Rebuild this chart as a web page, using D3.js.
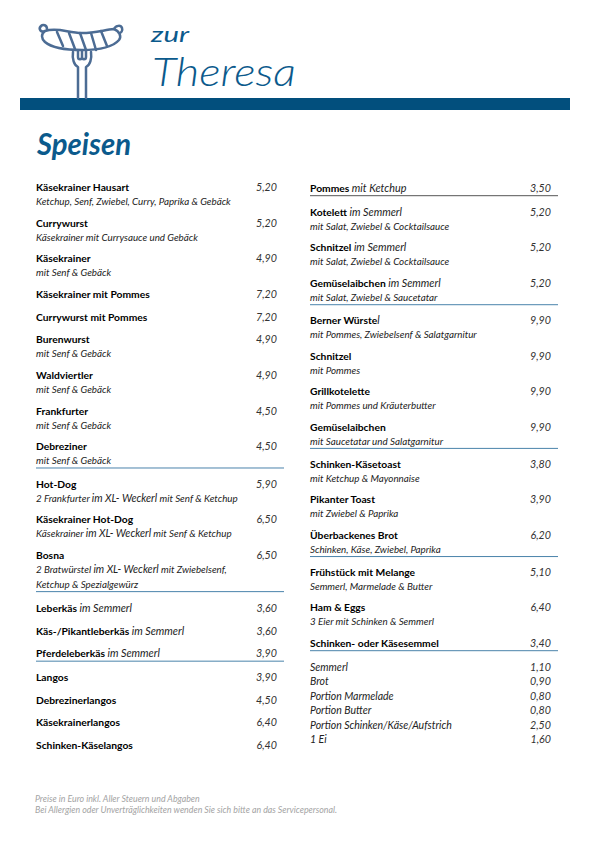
<!DOCTYPE html>
<html lang="de">
<head>
<meta charset="utf-8">
<title>Speisen</title>
<script src="https://cdnjs.cloudflare.com/ajax/libs/d3/7.8.5/d3.min.js"></script>
<style>
  html, body { margin: 0; padding: 0; background: #fff; }
  svg { display: block; }
  text { font-family: Lato, "Open Sans", sans-serif; }
</style>
</head>
<body>
<svg id="menu"></svg>
<script>
const leftNames = ["Käsekrainer Hausart", "Currywurst", "Käsekrainer", "Käsekrainer mit Pommes", "Currywurst mit Pommes", "Burenwurst", "Waldviertler", "Frankfurter", "Debreziner", "Hot-Dog", "Käsekrainer Hot-Dog", "Bosna", "Leberkäs", "Käs-/Pikantleberkäs", "Pferdeleberkäs", "Langos", "Debrezinerlangos", "Käsekrainerlangos", "Schinken-Käselangos"];
const leftTails = ["", "", "", "", "", "", "", "", "", "", "", "", "im Semmerl", "im Semmerl", "im Semmerl", "", "", "", ""];
const leftDescs = [
  ["Ketchup, Senf, Zwiebel, Curry, Paprika & Gebäck"],
  ["Käsekrainer mit Currysauce und Gebäck"],
  ["mit Senf & Gebäck"],
  [],
  [],
  ["mit Senf & Gebäck"],
  ["mit Senf & Gebäck"],
  ["mit Senf & Gebäck"],
  ["mit Senf & Gebäck"],
  ["2 Frankfurter im XL- Weckerl mit Senf & Ketchup"],
  ["Käsekrainer im XL- Weckerl mit Senf & Ketchup"],
  ["2 Bratwürstel im XL- Weckerl mit Zwiebelsenf,", "Ketchup & Spezialgewürz"],
  [], [], [], [], [], [], []
];
const leftPrices = ["5,20", "5,20", "4,90", "7,20", "7,20", "4,90", "4,90", "4,50", "4,50", "5,90", "6,50", "6,50", "3,60", "3,60", "3,90", "3,90", "4,50", "6,40", "6,40"];
const leftRules = ["Debreziner", "Bosna", "Pferdeleberkäs"];

const rightNames = ["Pommes", "Kotelett", "Schnitzel", "Gemüselaibchen", "Berner Würste", "Schnitzel", "Grillkotelette", "Gemüselaibchen", "Schinken-Käsetoast", "Pikanter Toast", "Überbackenes Brot", "Frühstück mit Melange", "Ham & Eggs", "Schinken- oder Käsesemmel"];
const rightTails = ["mit Ketchup", "im Semmerl", "im Semmerl", "im Semmerl", "l", "", "", "", "", "", "", "", "", ""];
const rightDescs = [
  [],
  ["mit Salat, Zwiebel & Cocktailsauce"],
  ["mit Salat, Zwiebel & Cocktailsauce"],
  ["mit Salat, Zwiebel & Saucetatar"],
  ["mit Pommes, Zwiebelsenf & Salatgarnitur"],
  ["mit Pommes"],
  ["mit Pommes und Kräuterbutter"],
  ["mit Saucetatar und Salatgarnitur"],
  ["mit Ketchup & Mayonnaise"],
  ["mit Zwiebel & Paprika"],
  ["Schinken, Käse, Zwiebel, Paprika"],
  ["Semmerl, Marmelade & Butter"],
  ["3 Eier mit Schinken & Semmerl"],
  []
];
const rightPrices = ["3,50", "5,20", "5,20", "5,20", "9,90", "9,90", "9,90", "9,90", "3,80", "3,90", "6,20", "5,10", "6,40", "3,40"];
const rightRules = ["Pommes", "Gemüselaibchen", "Überbackenes Brot", "Schinken- oder Käsesemmel"];

const extraNames = ["Semmerl", "Brot", "Portion Marmelade", "Portion Butter", "Portion Schinken/Käse/Aufstrich", "1 Ei"];
const extraPrices = ["1,10", "0,90", "0,80", "0,80", "2,50", "1,60"];

const footerLines = ["Preise in Euro inkl. Aller Steuern und Abgaben", "Bei Allergien oder Unverträglichkeiten wenden Sie sich bitte an das Servicepersonal."];

const width = 595, height = 842;
const svg = d3.select("#menu").attr("width", width).attr("height", height).attr("viewBox", `0 0 ${width} ${height}`);

const colX = d3.scalePoint().domain(["left", "right"]).range([36, 310]);
const colW = 248, priceX = 241;
const blue = "#0b5a8c", ruleBlue = "#4a83ab";
const nameSize = 10.3, descSize = 9.8, bigDescSize = 10.6, priceSize = 10.7;

// header band
svg.append("rect").attr("x", 20).attr("y", 98).attr("width", 550).attr("height", 12).attr("fill", "#024f7d");

// sausage and fork
const logo = svg.append("g").attr("fill", "none").attr("stroke", "#4c6c94").attr("stroke-width", 2.5).attr("stroke-linecap", "round").attr("stroke-linejoin", "round");
logo.append("path").attr("d", "M45 31C58 27 68 33 82 33C95 33 104 30 114 29C119 31 122 36 119 40C113 47 98 50 82 50C66 50 52 48 45 42C41 38 41 34 45 31Z");
logo.append("path").attr("d", "M45 31C41 33 38 29 41 26C43 24 47 25 47 29M114 29C116 25 121 25 122 28C123 31 121 33 119 33");
logo.append("path").attr("d", "M57 32L63 46M69 33L75 49M80 33L86 50M91 33L96 50M101 31L107 46");
logo.append("path").attr("d", "M73 52C72 59 74 65 78 67L78 98M91 52C92 59 90 65 86 67L86 98");
logo.append("path").attr("d", "M78 51L78 57C78 60 82 60 82 57L82 51M82 57C82 60 86 60 86 57L86 51");

// title texts, no handwriting font available so these are fitted to width
const titles = [
  { text: "zur", x: 151, y: 42, size: 22, len: 38, weight: 400, style: "italic" },
  { text: "Theresa", x: 152, y: 86, size: 40, len: 144, weight: 300, style: "italic" },
  { text: "Speisen", x: 37, y: 155, size: 31, len: 94, weight: 700, style: "italic" }
];
svg.selectAll(".title").data(titles).join("text")
  .attr("class", "title")
  .attr("x", d => d.x).attr("y", d => d.y)
  .attr("font-size", d => d.size).attr("font-weight", d => d.weight).attr("font-style", d => d.style)
  .attr("textLength", d => d.len).attr("lengthAdjust", "spacingAndGlyphs")
  .attr("fill", blue)
  .text(d => d.text);

// advance between rows follows how many lines the row holds, a rule adds a little
const rowStep = d => (d.descs.length === 0 ? 22.5 : d.descs.length === 1 ? 35.7 : 52) + (d.rule ? 1.5 : 0);

function drawColumn(col, names, tails, descs, prices, rules, firstY, lastY) {
  const rows = names.map((name, i) => ({ name, tail: tails[i], descs: descs[i], price: prices[i], rule: rules.includes(name) }));
  let total = 0;
  rows.forEach(r => { r.pos = total; total += rowStep(r); });
  const y = d3.scaleLinear().domain([0, rows[rows.length - 1].pos]).range([firstY, lastY]);
  const x0 = colX(col);

  const row = svg.append("g").selectAll("g").data(rows).join("g")
    .attr("transform", d => `translate(${x0},${y(d.pos)})`);

  const title = row.append("text").attr("font-size", nameSize).attr("fill", "#000");
  title.append("tspan").attr("font-weight", 700).text(d => d.name);
  title.append("tspan").attr("font-style", "italic").attr("fill", "#222").attr("font-size", 10.8)
    .text(d => d.tail === "l" ? "l" : d.tail ? " " + d.tail : "");

  row.append("text").attr("x", priceX).attr("text-anchor", "end")
    .attr("font-size", priceSize).attr("font-style", "italic").attr("fill", "#333")
    .text(d => d.price);

  row.selectAll(".desc").data(d => d.descs).join("text")
    .attr("class", "desc")
    .attr("y", (d, i) => 14 + i * 15)
    .attr("font-size", descSize).attr("font-style", "italic").attr("fill", "#222")
    .each(function (d) {
      d.split(/(im XL- Weckerl)/).forEach(part => {
        d3.select(this).append("tspan")
          .attr("font-size", part.startsWith("im XL") ? bigDescSize : descSize)
          .text(part);
      });
    });

  const ruleY = d => d.descs.length ? 14 + (d.descs.length - 1) * 15 + 3.7 : 3.7;
  row.filter(d => d.rule).append("line")
    .attr("x1", 0).attr("x2", colW)
    .attr("y1", ruleY)
    .attr("y2", ruleY)
    .attr("stroke", d => d.name === "Pommes" ? "#555" : ruleBlue)
    .attr("stroke-width", 1);
}

drawColumn("left", leftNames, leftTails, leftDescs, leftPrices, leftRules, 191, 749);
drawColumn("right", rightNames, rightTails, rightDescs, rightPrices, rightRules, 192, 647);

// side orders under the right column
const extraY = d3.scalePoint().domain(d3.range(extraNames.length)).range([671, 743]);
const extra = svg.append("g").selectAll("g").data(extraNames).join("g")
  .attr("transform", (d, i) => `translate(${colX("right")},${extraY(i)})`);
extra.append("text").attr("font-size", 10.5).attr("font-style", "italic").attr("fill", "#222").text(d => d);
extra.append("text").attr("x", priceX).attr("text-anchor", "end")
  .attr("font-size", priceSize).attr("font-style", "italic").attr("fill", "#333")
  .text((d, i) => extraPrices[i]);

// footer note
const footerY = d3.scalePoint().domain(footerLines).range([802, 813]);
svg.selectAll(".footer").data(footerLines).join("text")
  .attr("class", "footer")
  .attr("x", 35).attr("y", d => footerY(d))
  .attr("font-size", 8.8).attr("font-style", "italic").attr("fill", "#a3a3a3")
  .text(d => d);
</script>
</body>
</html>
